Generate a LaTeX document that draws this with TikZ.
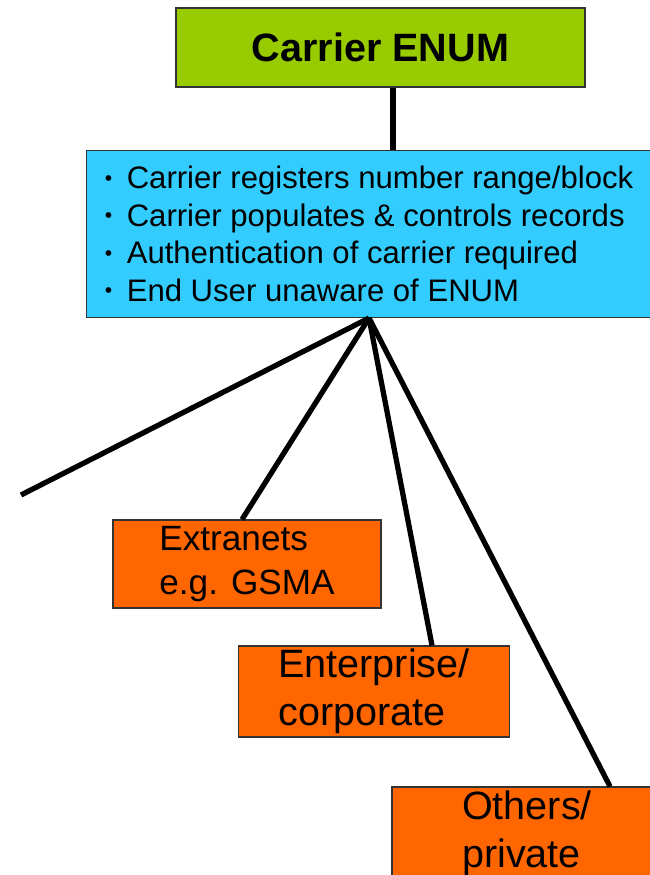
\documentclass[tikz,border=0pt]{standalone}
\usepackage{fontspec}
\setmainfont{Liberation Sans}
\usetikzlibrary{calc}

\definecolor{titlegreen}{HTML}{99CC00}
\definecolor{infoblue}{HTML}{33CCFF}
\definecolor{boxorange}{HTML}{FF6600}

\newcommand{\bul}{\makebox[12.5pt][l]{\raisebox{2pt}{\fontsize{12}{12}\selectfont •}}}

\tikzset{
    box/.style={rectangle, draw=black!80, line width=0.6pt, inner ysep=0pt},
    link/.style={line width=3pt},
}

\begin{document}
\begin{tikzpicture}
    % Canvas
    \clip (0,0) rectangle (13,17.5);

    % Carrier ENUM
    \node[box, fill=titlegreen, minimum width=8.18cm, minimum height=1.58cm,
          font=\bfseries\fontsize{22.5}{27}\selectfont] (title) at (7.61,16.55) {Carrier ENUM};

    % Carrier properties
    \node[box, fill=infoblue, anchor=north west, align=left, inner xsep=0.34cm,
          minimum width=11.3cm, minimum height=3.34cm,
          font=\fontsize{17.7}{21.3}\selectfont] (info) at (1.72,14.5)
          {\bul Carrier registers number range/block\\
           \bul Carrier populates \& controls records\\
           \bul Authentication of carrier required\\
           \bul End User unaware of ENUM};

    % Extranets
    \node[box, fill=boxorange, align=left, inner xsep=0.88cm,
          minimum width=5.36cm, minimum height=1.76cm,
          font=\fontsize{20}{25}\selectfont] (extra) at (4.94,6.22) {Extranets\\e.g. GSMA};

    % Enterprise
    \node[box, fill=boxorange, align=left, inner xsep=0.8cm,
          minimum width=5.4cm, minimum height=1.82cm,
          font=\fontsize{22.5}{27.2}\selectfont] (ent) at (7.48,3.67) {Enterprise/\\corporate};

    % Others
    \node[box, fill=boxorange, align=left, inner xsep=1.4cm,
          minimum width=5.4cm, minimum height=1.86cm,
          font=\fontsize{22.5}{27.2}\selectfont] (oth) at (10.54,0.83) {Others/\\private};

    % Links
    \coordinate (offleft) at (0.42,7.6);
    \draw[link] ($(title.south)+(0.25,0)$) coordinate (drop) -- (drop |- info.north);
    \draw[link] (info.south) -- (offleft);
    \draw[link] (info.south) -- ($(extra.north)+(-0.1,0)$);
    \draw[link] (info.south) -- ($(ent.north)+(1.16,0)$);
    \draw[link] (info.south) -- ($(oth.north)+(1.66,0)$);
\end{tikzpicture}
\end{document}
